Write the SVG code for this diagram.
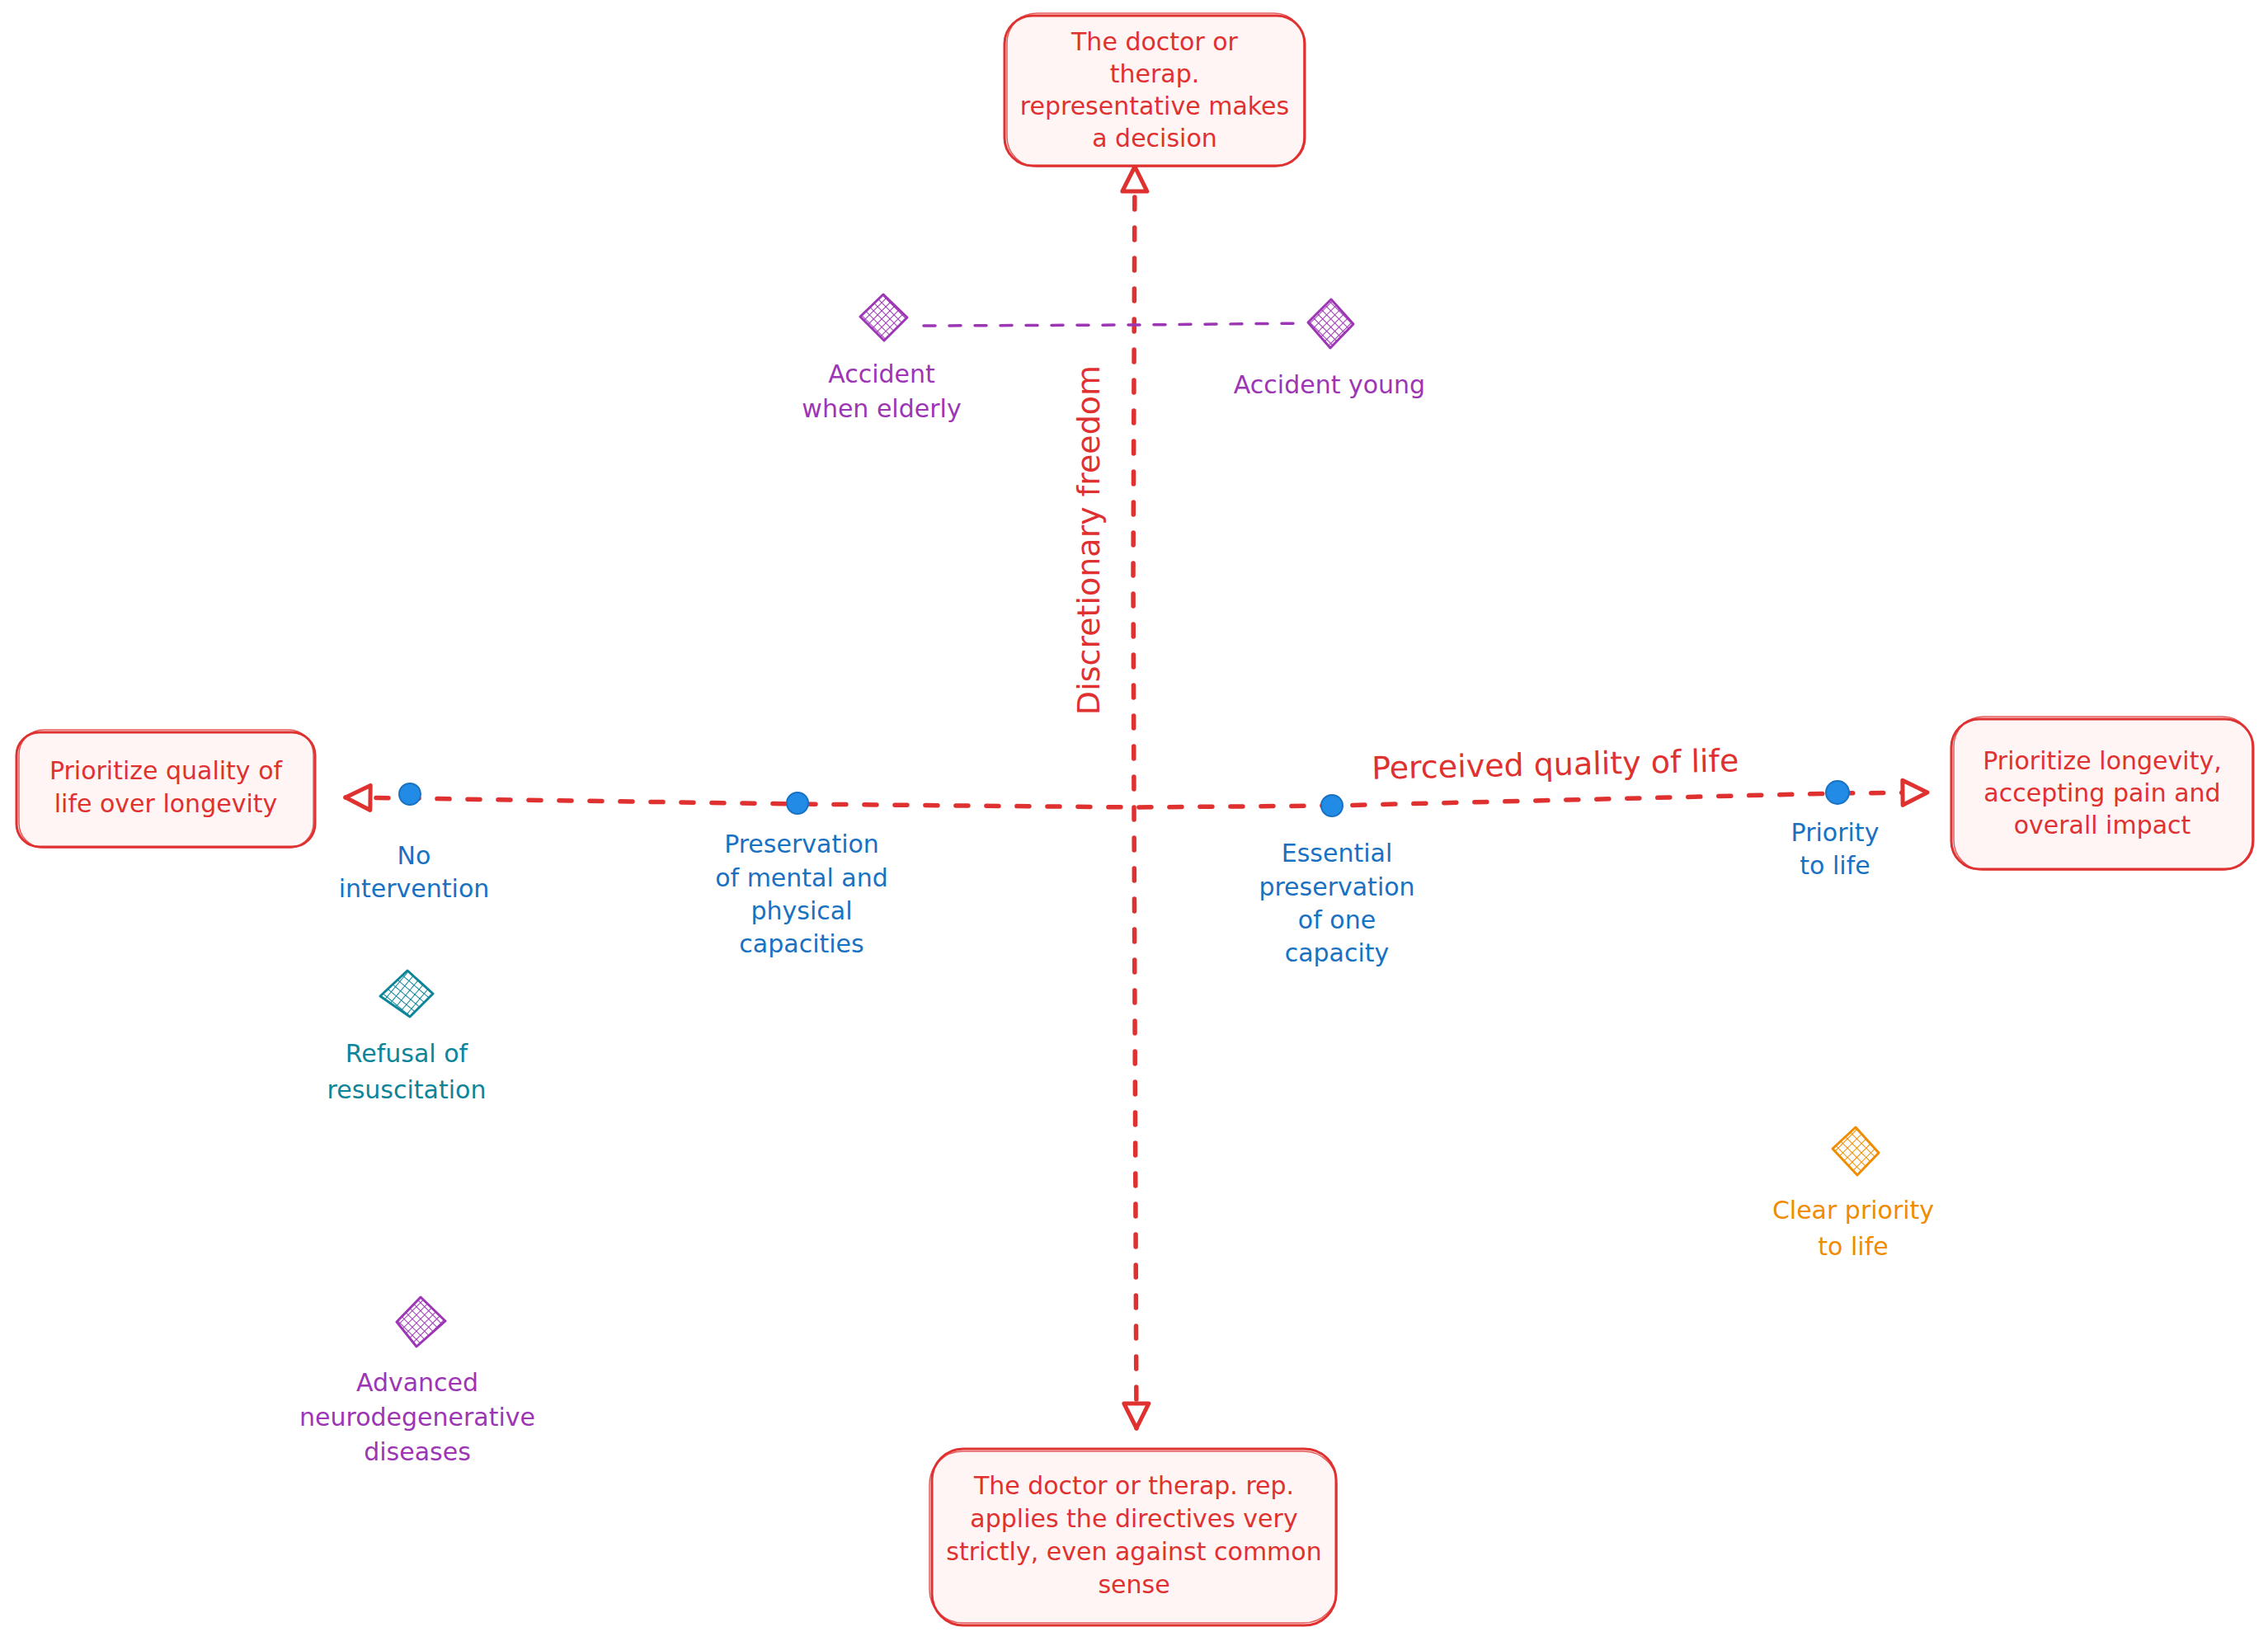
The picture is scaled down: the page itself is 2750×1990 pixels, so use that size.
<svg xmlns="http://www.w3.org/2000/svg" width="2750" height="1990" viewBox="0 0 2750 1990">
<style>
text{font-family:"DejaVu Sans","Liberation Sans",sans-serif;font-size:30px;text-anchor:middle}
.red{fill:#e03131}
.blue{fill:#1971c2}
.purple{fill:#9c36b5}
.teal{fill:#0c8599}
.orange{fill:#f08c00}
.axis{font-size:38px}
.box{fill:#fff5f5;stroke:#e03131;stroke-width:3}
.box2{fill:none;stroke:#e03131;stroke-width:1.5;opacity:.8}
.axisline{fill:none;stroke:#e03131;stroke-width:5.5;stroke-dasharray:15 22;stroke-linecap:round}
.pline{fill:none;stroke:#9c36b5;stroke-width:3.5;stroke-dasharray:14 17;stroke-linecap:round}
.dot{fill:#228be6;stroke:#1971c2;stroke-width:2}
.dia{stroke-width:3;stroke-linejoin:round}
</style>
<defs>
<marker id="tri" viewBox="-4 -4 40 38" refX="30" refY="15" markerWidth="40" markerHeight="38" markerUnits="userSpaceOnUse" orient="auto-start-reverse">
<path d="M0,0 L30,15 L0,30 Z" fill="#ffffff" stroke="#e03131" stroke-width="5" stroke-linejoin="round"/>
</marker>
<pattern id="hP" width="7" height="7" patternUnits="userSpaceOnUse" patternTransform="rotate(45)"><path d="M0,0H7M0,0V7" stroke="#9c36b5" stroke-width="2"/></pattern>
<pattern id="hT" width="8" height="8" patternUnits="userSpaceOnUse" patternTransform="rotate(40)"><path d="M0,0H8M0,0V8" stroke="#0c8599" stroke-width="2"/></pattern>
<pattern id="hO" width="8" height="8" patternUnits="userSpaceOnUse" patternTransform="rotate(45)"><path d="M0,0H8M0,0V8" stroke="#f08c00" stroke-width="2"/></pattern>
</defs>
<rect width="2750" height="1990" fill="#ffffff"/>

<g id="connectors">
<path class="axisline" d="M1376,202 L1374,700 L1375,979 L1378,1732" marker-start="url(#tri)" marker-end="url(#tri)"/>
<path class="axisline" d="M419,967 L967,975 L1375,979 L1615,977 L2228,962 L2337,961" marker-start="url(#tri)" marker-end="url(#tri)"/>
<path class="pline" d="M1120,395 L1375,394 L1583,392"/>
</g>

<g id="axis-labels">
<text class="red axis" transform="translate(1333,655) rotate(-90)">Discretionary freedom</text>
<text class="red axis" transform="translate(1886,940) rotate(-1.2)">Perceived quality of life</text>
</g>

<g id="box-top">
<rect class="box" x="1218" y="19" width="364" height="182" rx="34"/>
<rect class="box2" x="1221" y="16" width="360" height="186" rx="36"/>
<text class="red" x="1400" y="61">The doctor or</text>
<text class="red" x="1400" y="100">therap.</text>
<text class="red" x="1400" y="139">representative makes</text>
<text class="red" x="1400" y="178">a decision</text>
</g>

<g id="box-bottom">
<rect class="box" x="1130" y="1757" width="490" height="214" rx="38"/>
<rect class="box2" x="1127" y="1760" width="494" height="208" rx="40"/>
<text class="red" x="1375" y="1812">The doctor or therap. rep.</text>
<text class="red" x="1375" y="1852">applies the directives very</text>
<text class="red" x="1375" y="1892">strictly, even against common</text>
<text class="red" x="1375" y="1932">sense</text>
</g>

<g id="box-left">
<rect class="box" x="20" y="888" width="362" height="139" rx="28"/>
<rect class="box2" x="23" y="885" width="357" height="143" rx="30"/>
<text class="red" x="201" y="945">Prioritize quality of</text>
<text class="red" x="201" y="985">life over longevity</text>
</g>

<g id="box-right">
<rect class="box" x="2366" y="872" width="366" height="182" rx="34"/>
<rect class="box2" x="2369" y="869" width="362" height="186" rx="36"/>
<text class="red" x="2549" y="933">Prioritize longevity,</text>
<text class="red" x="2549" y="972">accepting pain and</text>
<text class="red" x="2549" y="1011">overall impact</text>
</g>

<g id="pt-no-intervention">
<circle class="dot" cx="497" cy="963" r="13"/>
<text class="blue" x="502" y="1048">No</text>
<text class="blue" x="502" y="1088">intervention</text>
</g>

<g id="pt-preservation">
<circle class="dot" cx="967" cy="974" r="13"/>
<text class="blue" x="972" y="1034">Preservation</text>
<text class="blue" x="972" y="1075">of mental and</text>
<text class="blue" x="972" y="1115">physical</text>
<text class="blue" x="972" y="1155">capacities</text>
</g>

<g id="pt-essential">
<circle class="dot" cx="1615" cy="977" r="13"/>
<text class="blue" x="1621" y="1045">Essential</text>
<text class="blue" x="1621" y="1086">preservation</text>
<text class="blue" x="1621" y="1126">of one</text>
<text class="blue" x="1621" y="1166">capacity</text>
</g>

<g id="pt-priority">
<circle class="dot" cx="2228" cy="961" r="14"/>
<text class="blue" x="2225" y="1020">Priority</text>
<text class="blue" x="2225" y="1060">to life</text>
</g>

<g id="accident-elderly">
<polygon class="dia" points="1071,357 1100,385 1072,413 1043,384" fill="url(#hP)" stroke="#9c36b5"/>
<text class="purple" x="1069" y="464">Accident</text>
<text class="purple" x="1069" y="506">when elderly</text>
</g>

<g id="accident-young">
<polygon class="dia" points="1614,363 1641,393 1613,422 1586,391" fill="url(#hP)" stroke="#9c36b5"/>
<text class="purple" x="1612" y="477">Accident young</text>
</g>

<g id="refusal">
<polygon class="dia" points="494,1177 525,1205 497,1233 461,1208" fill="url(#hT)" stroke="#0c8599"/>
<text class="teal" x="493" y="1288">Refusal of</text>
<text class="teal" x="493" y="1332">resuscitation</text>
</g>

<g id="neuro">
<polygon class="dia" points="510,1573 540,1602 505,1633 481,1603" fill="url(#hP)" stroke="#9c36b5"/>
<text class="purple" x="506" y="1687">Advanced</text>
<text class="purple" x="506" y="1729">neurodegenerative</text>
<text class="purple" x="506" y="1771">diseases</text>
</g>

<g id="clear-priority">
<polygon class="dia" points="2250,1367 2278,1398 2252,1425 2222,1393" fill="url(#hO)" stroke="#f08c00"/>
<text class="orange" x="2247" y="1478">Clear priority</text>
<text class="orange" x="2247" y="1522">to life</text>
</g>
</svg>
